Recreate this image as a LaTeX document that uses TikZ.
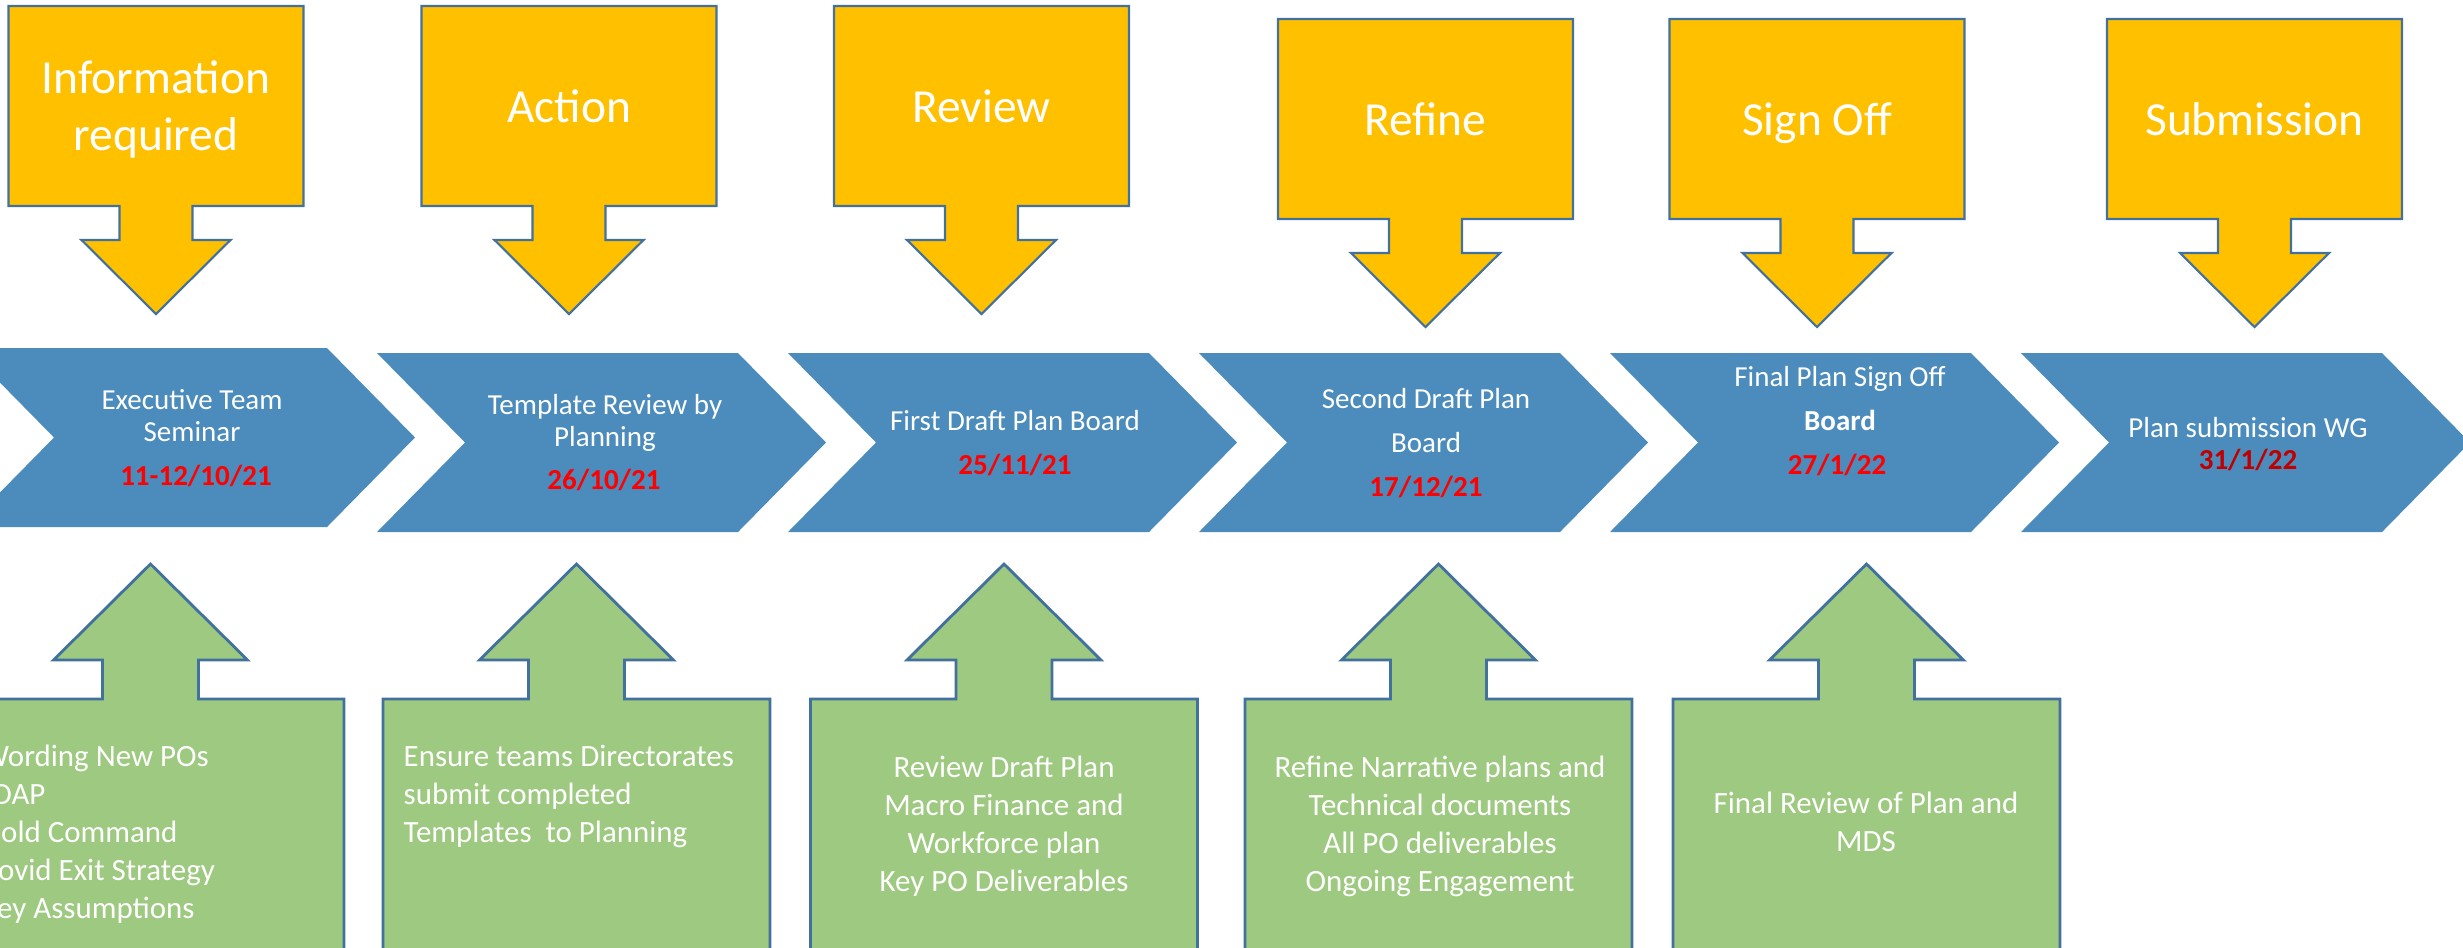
\documentclass[tikz,border=0pt]{standalone}
\usepackage{fontspec}
\setmainfont{Carlito}
\usepackage{tikz}
\usetikzlibrary{positioning,calc}

\definecolor{amber}{HTML}{FFC000}
\definecolor{rim}{HTML}{41719C}
\definecolor{chevblue}{HTML}{4B8CBD}
\definecolor{leaf}{HTML}{9EC980}
\definecolor{datered}{HTML}{FF0000}
\definecolor{darkdate}{HTML}{C00000}

\begin{document}
\begin{tikzpicture}[x=0.01cm,y=-0.01cm,
ybox/.style={fill=amber,draw=rim,line width=0.6pt},
chev/.style={fill=chevblue},
gbox/.style={fill=leaf,draw=rim,line width=0.8pt},
phase/.style={text=white,inner sep=0,anchor=base,align=center,font=\fontsize{13.5}{16.2}\selectfont},
stage/.style={text=white,inner sep=0,anchor=base,align=center,font=\fontsize{8.25}{9.1}\selectfont},
daytxt/.style={text=datered,inner sep=0,anchor=base,font=\bfseries\fontsize{8.25}{9.1}\selectfont},
task/.style={text=white,inner sep=0,anchor=base,align=center,font=\fontsize{8.8}{10.8}\selectfont}]
\useasboundingbox (0,0) rectangle (2463,947);
\clip (0,0) rectangle (2463,947);

% yellow boxes with down arrows
\foreach \cx/\ty in {156/6,569/6,981.5/6,1425.5/19,1817/19,2254.5/19}
  \draw[ybox] (\cx-147.5,\ty) -- ++(295,0) -- ++(0,200) -- ++(-111,0) -- ++(0,34) -- ++(38,0)
    -- ++(-74.5,74) -- ++(-74.5,-74) -- ++(38,0) -- ++(0,-34) -- ++(-111,0) -- cycle;

% chevrons
\foreach \lx/\ty in {-34/348,377/353,788/353,1199/353,1610/353,2021/353}
  \fill[chev] (\lx,\ty) -- ++(361,0) -- ++(88,89.5) -- ++(-88,89.5) -- ++(-361,0) -- ++(88,-89.5) -- cycle;

% green boxes with up arrows
\foreach \cx in {150.5,576.5,1004,1438.5,1866.5}
  \draw[gbox] (\cx-193.5,960) -- ++(0,-261) -- ++(145.5,0) -- ++(0,-39) -- ++(-49,0) -- ++(97,-96)
    -- ++(97,96) -- ++(-49,0) -- ++(0,39) -- ++(145.5,0) -- ++(0,261) -- cycle;

\node (info) at (156,150.7) [phase] {Information\\required};
\node (action) at (569,122) [phase] {Action};
\node (review) at (981.5,122) [phase] {Review};
\node (refine) at (1425.5,135) [phase] {Refine};
\node (signoff) at (1817,135) [phase] {Sign Off};
\node (submit) at (2254.5,135) [phase] {Submission};

\node (exec) at (192,441) [stage] {Executive Team\\Seminar};
\node (execd) at (196,485) [daytxt] {11-12/10/21};
\node (templ) at (605,446) [stage] {Template Review by\\Planning};
\node (templd) at (604,489) [daytxt] {26/10/21};
\node (first) at (1015,430) [stage] {First Draft Plan Board};
\node (firstd) at (1015,474) [daytxt] {25/11/21};
\node (second) at (1426,452) [stage] {Second Draft Plan\\[3.4pt]Board};
\node (secondd) at (1426,496) [daytxt] {17/12/21};
\node (final) at (1840,430) [stage] {Final Plan Sign Off\\[3.3pt]\textbf{Board}};
\node (finald) at (1837,474.5) [daytxt] {27/1/22};
\node (wg) at (2248,437) [stage] {Plan submission WG};
\node (wgd) at (2248,469.5) [daytxt,text=darkdate] {31/1/22};

\node (inputs) at (-19,918) [task,align=left,anchor=base west] {Wording New POs\\\hspace*{3.2pt}DAP\\Gold Command\\Covid Exit Strategy\\Key Assumptions};
\node (ensure) at (403,842) [task,align=left,anchor=base west] {Ensure teams Directorates\\submit completed\\Templates\ \ to Planning};
\node (draft) at (1004,891) [task] {Review Draft Plan\\Macro Finance and\\Workforce plan\\Key PO Deliverables};
\node (narr) at (1440,891) [task] {Refine Narrative plans and\\Technical documents\\All PO deliverables\\Ongoing Engagement};
\node (mds) at (1866,851.5) [task] {Final Review of Plan and\\MDS};
\end{tikzpicture}
\end{document}
